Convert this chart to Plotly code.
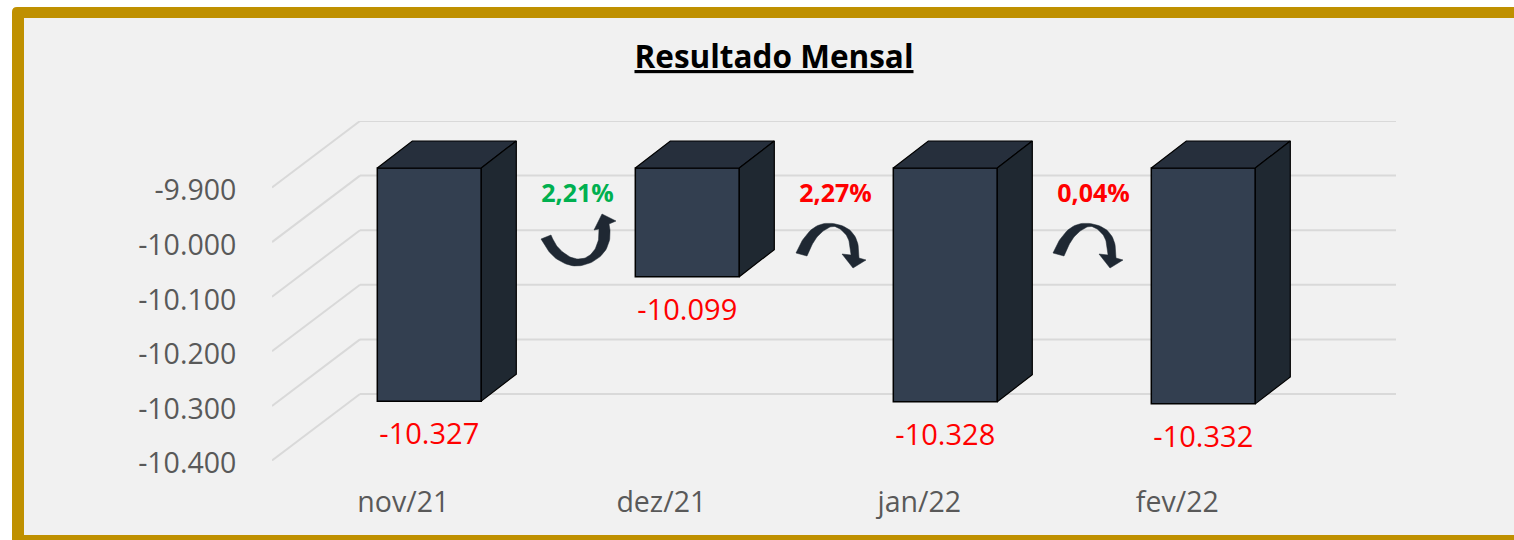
import plotly.graph_objects as go

# ---- data ----
months = ["nov/21", "dez/21", "jan/22", "fev/22"]
values = [-10327, -10099, -10328, -10332]
value_labels = ["-10.327", "-10.099", "-10.328", "-10.332"]
tick_values = [-9900, -10000, -10100, -10200, -10300, -10400]
tick_labels = ["-9.900", "-10.000", "-10.100", "-10.200", "-10.300", "-10.400"]
change_labels = ["2,21%", "2,27%", "0,04%"]
change_colors = ["#00B050", "#FF0000", "#FF0000"]

# ---- layout geometry ----
W, H = 1514, 540
L, R, T, B = 272, 1396, 121, 461
CAT_PX = 258.0          # pixels per category
VAL_PX = 0.546          # pixels per value unit
X0_PX = 403.3           # pixel of category 0 on the front plane
Y_TOP_PX = 187.5        # pixel of axis top value on the front plane
AXIS_TOP = tick_values[0]

def px2x(p):
    return (p - X0_PX) / CAT_PX

def px2y(p):
    return AXIS_TOP - (p - Y_TOP_PX) / VAL_PX

def dx(p):
    return p / CAT_PX

def dy(p):
    return p / VAL_PX

def paper_x(p):
    return (p - L) / (R - L)

def paper_y(p):
    return (B - p) / (B - T)

def smooth(pts, rounds=3):
    """Corner-cutting that keeps the end points, for the arrow shafts."""
    for _ in range(rounds):
        out = [pts[0]]
        for a, b in zip(pts[:-1], pts[1:]):
            out.append((0.75 * a[0] + 0.25 * b[0], 0.75 * a[1] + 0.25 * b[1]))
            out.append((0.25 * a[0] + 0.75 * b[0], 0.25 * a[1] + 0.75 * b[1]))
        out.append(pts[-1])
        pts = out
    return pts

GRID_DX, GRID_DY = dx(88), dy(66.5)        # floor depth
BAR_SHIFT_X, BAR_SHIFT_Y = dx(26), dy(19.5)  # bar position in depth
BAR_W = dx(104)
BAR_DX, BAR_DY = dx(35), dy(27)            # bar depth
FACE = "#333F50"
TOP = "#262F3C"
SIDE = "#1F2831"
EDGE = "#000000"
ARROW = "#1F2833"
GREY = "#595959"
FONT = "Open Sans"

fig = go.Figure()

# front faces: real bars, hanging from the clipped axis top
fig.add_trace(go.Bar(
    x=[i + BAR_SHIFT_X for i in range(len(values))],
    y=[v - AXIS_TOP for v in values],
    base=[AXIS_TOP + BAR_SHIFT_Y] * len(values),
    width=BAR_W,
    marker=dict(color=FACE, line=dict(color=EDGE, width=1.5)),
    hoverinfo="skip",
    showlegend=False,
))

# 3D depth faces
for i, v in enumerate(values):
    x1 = i + BAR_SHIFT_X - 0.5 * BAR_W
    x2 = x1 + BAR_W
    yt = AXIS_TOP + BAR_SHIFT_Y
    yb = v + BAR_SHIFT_Y
    fig.add_trace(go.Scatter(
        x=[x1, x1 + BAR_DX, x2 + BAR_DX, x2, x1],
        y=[yt, yt + BAR_DY, yt + BAR_DY, yt, yt],
        fill="toself", fillcolor=TOP, mode="lines",
        line=dict(color=EDGE, width=1.2),
        hoverinfo="skip", showlegend=False, cliponaxis=False,
    ))
    fig.add_trace(go.Scatter(
        x=[x2, x2 + BAR_DX, x2 + BAR_DX, x2, x2],
        y=[yt, yt + BAR_DY, yb + BAR_DY, yb, yt],
        fill="toself", fillcolor=SIDE, mode="lines",
        line=dict(color=EDGE, width=1.2),
        hoverinfo="skip", showlegend=False, cliponaxis=False,
    ))

# value labels under each bar
fig.add_trace(go.Scatter(
    x=[i + BAR_SHIFT_X for i in range(len(values))],
    y=[v + BAR_SHIFT_Y - dy(36) for v in values],
    text=value_labels,
    mode="text",
    textposition="middle center",
    textfont=dict(family=FONT, size=29, color="#FF0000"),
    hoverinfo="skip", showlegend=False, cliponaxis=False,
))

# month-over-month labels
fig.add_trace(go.Scatter(
    x=[i + px2x(577.5) for i in range(len(change_labels))],
    y=[px2y(196)] * len(change_labels),
    text=[f"<b>{t}</b>" for t in change_labels],
    mode="text",
    textposition="middle center",
    textfont=dict(family=FONT, size=25, color=change_colors),
    hoverinfo="skip", showlegend=False, cliponaxis=False,
))

# curved arrows: outer edge, head, inner edge (pixel outlines of the drawn shapes)
UP_OUTER = [(541, 239), (548, 251), (557, 260), (573, 267), (590, 264), (604, 254),
            (610, 241), (610, 230)]
UP_HEAD = [(609, 224), (616, 221), (602, 214), (594, 230), (599, 229)]
UP_INNER = [(599, 229), (599, 240), (594, 252), (585, 259), (573, 259), (562, 252),
            (555, 244), (551, 235)]
DOWN_OUTER = [(796, 253), (802, 240), (813, 227), (828, 222), (848, 227), (858, 240),
              (859, 258)]
DOWN_HEAD = [(866, 260), (853, 268), (842, 254)]
DOWN_INNER = [(851, 255), (850, 244), (847, 235), (837, 226), (828, 227), (815, 238),
              (807, 256)]

def arrow_outline(outer, head, inner):
    return smooth(outer) + head + smooth(inner)

arrow_up = arrow_outline(UP_OUTER, UP_HEAD, UP_INNER)
arrow_down = arrow_outline(DOWN_OUTER, DOWN_HEAD, DOWN_INNER)
for pts, off in [(arrow_up, 0.0), (arrow_down, 0.0), (arrow_down, 257.0)]:
    fig.add_trace(go.Scatter(
        x=[px2x(p[0] + off) for p in pts] + [px2x(pts[0][0] + off)],
        y=[px2y(p[1]) for p in pts] + [px2y(pts[0][1])],
        fill="toself", fillcolor=ARROW, mode="lines",
        line=dict(color=ARROW, width=0.5),
        hoverinfo="skip", showlegend=False, cliponaxis=False,
    ))

# frame + gridlines
shapes = [
    dict(type="path", xref="paper", yref="paper", layer="below",
         path=(f"M {paper_x(12)} {paper_y(545)} L {paper_x(12)} {paper_y(12)} "
               f"Q {paper_x(12)} {paper_y(7)} {paper_x(17)} {paper_y(7)} "
               f"L {paper_x(1520)} {paper_y(7)} L {paper_x(1520)} {paper_y(545)} Z"),
         fillcolor="#BF9000", line=dict(width=0)),
    dict(type="rect", xref="paper", yref="paper", layer="below",
         x0=paper_x(24), x1=paper_x(1520), y0=paper_y(535), y1=paper_y(18),
         fillcolor="#F1F1F1", line=dict(width=0)),
]
for t in tick_values:
    fig_left = px2x(L)
    fig_right = px2x(R)
    shapes.append(dict(type="line", xref="x", yref="y", layer="below",
                       x0=fig_left, y0=t, x1=fig_left + GRID_DX, y1=t + GRID_DY,
                       line=dict(color="#D9D9D9", width=2)))
    shapes.append(dict(type="line", xref="x", yref="y", layer="below",
                       x0=fig_left + GRID_DX, y0=t + GRID_DY, x1=fig_right, y1=t + GRID_DY,
                       line=dict(color="#D9D9D9", width=2)))

fig.update_layout(
    width=W, height=H,
    margin=dict(l=L, r=W - R, t=T, b=H - B, pad=0),
    paper_bgcolor="#FFFFFF",
    plot_bgcolor="rgba(0,0,0,0)",
    shapes=shapes,
    showlegend=False,
    barmode="overlay",
    title=dict(
        text="<b>Resultado Mensal</b>",
        x=774 / W, xanchor="center", xref="container",
        y=1 - 57 / H, yanchor="middle", yref="container",
        font=dict(family=FONT, size=31.5, color="#000000", lineposition="under"),
    ),
    xaxis=dict(
        range=[px2x(L), px2x(R)],
        tickmode="array", tickvals=list(range(len(months))), ticktext=months,
        tickfont=dict(family=FONT, size=28.5, color=GREY),
        ticks="outside", ticklen=16, tickcolor="rgba(0,0,0,0)",
        showgrid=False, zeroline=False, showline=False,
    ),
    yaxis=dict(
        range=[px2y(B), px2y(T)],
        tickmode="array", tickvals=tick_values, ticktext=tick_labels,
        tickfont=dict(family=FONT, size=28.5, color=GREY),
        ticks="outside", ticklen=29, tickcolor="rgba(0,0,0,0)",
        ticklabelshift=3,
        showgrid=False, zeroline=False, showline=False,
    ),
)

fig.write_html(
    "out.html",
    config={"displayModeBar": False},
    post_script="document.body.style.margin='0';document.documentElement.style.overflow='hidden';",
)
